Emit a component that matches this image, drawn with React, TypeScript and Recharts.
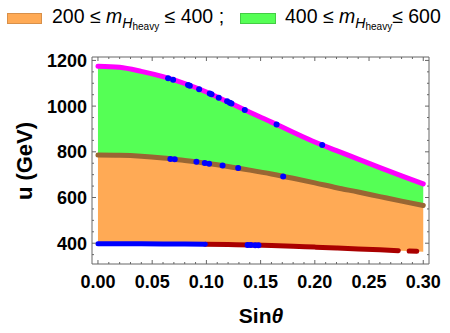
import { ComposedChart, Area, Line, Scatter, XAxis, YAxis } from "recharts";

// main grid: sin(theta) and the three boundary curves of the allowed band (u in GeV)
const sinTheta = [0, 0.02, 0.04, 0.06, 0.08, 0.1, 0.12, 0.14, 0.16, 0.18, 0.2, 0.22, 0.24, 0.26, 0.28, 0.3];
const uHeavy600 = [1175, 1170, 1152, 1129, 1099, 1062, 1018, 973, 930, 886, 843, 805, 768, 731, 695, 660];
const uHeavy400 = [786, 785, 781, 773, 762, 750, 736, 720, 703, 684, 664, 643, 624, 604, 584, 565];
const uHeavy200 = [398, 398, 397.5, 397, 396.5, 395.5, 394, 392, 390, 387, 383, 379, 375, 371, 367, 363];

// lower edge, drawn in pieces (blue part, then dark red with a small gap)
const lowBlueS = [0, 0.02, 0.04, 0.06, 0.08, 0.099];
const lowBlueU = [398, 398, 397.5, 397, 396.5, 395.5];
const lowRedS = [0.099, 0.12, 0.14, 0.16, 0.18, 0.2, 0.22, 0.24, 0.26, 0.277];
const lowRedU = [395.5, 394, 392, 390, 387, 383, 379, 375, 371, 367.5];
const lowRed2S = [0.287, 0.294];
const lowRed2U = [365.5, 364.5];

// blue sample points
const dotsTopS = [0.0647, 0.0693, 0.0831, 0.0847, 0.0933, 0.1031, 0.1047, 0.1114, 0.1191, 0.1216, 0.1231, 0.1354, 0.1647, 0.2068];
const dotsTopU = [1122, 1115, 1092, 1089, 1074, 1055, 1052, 1037, 1021, 1015, 1012, 983, 920, 830];
const dotsMidS = [0.0668, 0.0708, 0.0908, 0.0985, 0.1025, 0.1149, 0.1293, 0.1708];
const dotsMidU = [769, 768, 756, 751, 748, 740, 729, 692];
const dotsLowS = [0.138, 0.141, 0.145, 0.148];
const dotsLowU = [392, 391.8, 391.5, 391.2];

const xMajor = [0, 0.05, 0.1, 0.15, 0.2, 0.25, 0.3];
const xTicks = [0, 0.01, 0.02, 0.03, 0.04, 0.05, 0.06, 0.07, 0.08, 0.09, 0.1, 0.11, 0.12, 0.13, 0.14, 0.15, 0.16, 0.17, 0.18, 0.19, 0.2, 0.21, 0.22, 0.23, 0.24, 0.25, 0.26, 0.27, 0.28, 0.29, 0.3];
const yMajor = [400, 600, 800, 1000, 1200];
const yTicks = [350, 400, 450, 500, 550, 600, 650, 700, 750, 800, 850, 900, 950, 1000, 1050, 1100, 1150, 1200];

const xDomain: [number, number] = [-0.0055, 0.3053];
const yDomain: [number, number] = [309, 1215];

const font = "'Liberation Sans', Arial, sans-serif";
const frame = "#666";
const orange = "#FFAA55";
const green = "#55FF55";

const band = sinTheta.map((s, i) => ({ s, lo: uHeavy200[i], mid: uHeavy400[i], hi: uHeavy600[i] }));
const pts = (xs: number[], ys: number[]) => xs.map((s, i) => ({ s, u: ys[i] }));

const isMajor = (v: number, list: number[]) => list.some((m) => Math.abs(m - v) < 1e-6);
const tickText = { fill: "#000", fontSize: 18, fontWeight: "bold" as const, fontFamily: font };

// frame ticks point inward; majors longer and (bottom/left only) labelled
const makeTick = (side: "bottom" | "top" | "left" | "right") => (p: any) => {
  const v = p.payload.value;
  const horizontal = side === "bottom" || side === "top";
  const major = isMajor(v, horizontal ? xMajor : yMajor);
  const len = major ? 4 : 2;
  const { x, y } = p;
  let line;
  if (side === "bottom") line = <line x1={x} x2={x} y1={y} y2={y - len} stroke={frame} />;
  else if (side === "top") line = <line x1={x} x2={x} y1={y} y2={y + len} stroke={frame} />;
  else if (side === "left") line = <line x1={x} x2={x + len} y1={y} y2={y} stroke={frame} />;
  else line = <line x1={x} x2={x - len} y1={y} y2={y} stroke={frame} />;
  return (
    <g>
      {line}
      {major && side === "bottom" && (
        <text x={x} y={y + 11} dy="0.71em" textAnchor="middle" {...tickText}>{v.toFixed(2)}</text>
      )}
      {major && side === "left" && (
        <text x={x - 5} y={y} dy="0.355em" textAnchor="end" {...tickText}>{v}</text>
      )}
    </g>
  );
};

const Dot = (p: any) => <circle cx={p.cx} cy={p.cy} r={3} fill="#0000FF" />;

const Sub = () => (
  <>
    <span style={{ fontStyle: "italic" }}>m</span>
    <span style={{ fontStyle: "italic", fontSize: 14, position: "relative", top: 5 }}>H</span>
    <span style={{ fontSize: 10, position: "relative", top: 7 }}>heavy</span>
  </>
);

const common = { xAxisId: "b", yAxisId: "l", isAnimationActive: false } as const;

export default function App() {
  return (
    <div style={{ position: "fixed", left: 0, top: 0, width: 450, height: 333, background: "#fff", fontFamily: font }}>
      <ComposedChart width={450} height={333} margin={{ top: 56, right: 20, bottom: 68, left: 91 }}>
        <XAxis xAxisId="b" dataKey="s" type="number" domain={xDomain} allowDataOverflow ticks={xTicks} interval={0}
          height={1} tickSize={0} tickMargin={0} tickLine={false} tick={makeTick("bottom")} axisLine={{ stroke: frame }} />
        <XAxis xAxisId="t" orientation="top" dataKey="s" type="number" domain={xDomain} allowDataOverflow ticks={xTicks}
          interval={0} height={1} tickSize={0} tickMargin={0} tickLine={false} tick={makeTick("top")} axisLine={{ stroke: frame }} />
        <YAxis yAxisId="l" type="number" domain={yDomain} allowDataOverflow ticks={yTicks} interval={0} width={1}
          tickSize={0} tickMargin={0} tickLine={false} tick={makeTick("left")} axisLine={{ stroke: frame }} />
        <YAxis yAxisId="r" orientation="right" type="number" domain={yDomain} allowDataOverflow ticks={yTicks}
          interval={0} width={1} tickSize={0} tickMargin={0} tickLine={false} tick={makeTick("right")} axisLine={{ stroke: frame }} />

        <Area data={band} {...common} type="monotone" dataKey={(d: any) => [d.lo, d.mid]}
          fill={orange} fillOpacity={1} stroke="none" dot={false} activeDot={false} />
        <Area data={band} {...common} type="monotone" dataKey={(d: any) => [d.mid, d.hi]}
          fill={green} fillOpacity={1} stroke="none" dot={false} activeDot={false} />

        <Line data={band} {...common} type="monotone" dataKey="hi" stroke="#FF00FF" strokeWidth={5}
          strokeLinecap="round" dot={false} activeDot={false} />
        <Line data={band} {...common} type="monotone" dataKey="mid" stroke="#996633" strokeWidth={5}
          strokeLinecap="round" dot={false} activeDot={false} />
        <Line data={pts(lowRedS, lowRedU)} {...common} type="monotone" dataKey="u" stroke="#AA0000"
          strokeWidth={5} strokeLinecap="round" dot={false} activeDot={false} />
        <Line data={pts(lowRed2S, lowRed2U)} {...common} type="monotone" dataKey="u" stroke="#AA0000"
          strokeWidth={5} strokeLinecap="round" dot={false} activeDot={false} />
        <Line data={pts(lowBlueS, lowBlueU)} {...common} type="monotone" dataKey="u" stroke="#0000FF"
          strokeWidth={5} strokeLinecap="round" dot={false} activeDot={false} />

        <Scatter data={pts(dotsTopS, dotsTopU)} {...common} dataKey="u" shape={Dot} />
        <Scatter data={pts(dotsMidS, dotsMidU)} {...common} dataKey="u" shape={Dot} />
        <Scatter data={pts(dotsLowS, dotsLowU)} {...common} dataKey="u" shape={Dot} />
      </ComposedChart>

      {/* legend */}
      <div style={{ position: "absolute", left: 7, top: 13, width: 35, height: 11, background: orange, border: "1px solid #D8904A", boxSizing: "border-box" }} />
      <div style={{ position: "absolute", left: 52, top: 6, fontSize: 19.5, lineHeight: "20px", whiteSpace: "nowrap" }}>
        200 ≤ <Sub /> ≤ 400 ;
      </div>
      <div style={{ position: "absolute", left: 240, top: 13, width: 36, height: 11, background: green, border: "1px solid #44CC44", boxSizing: "border-box" }} />
      <div style={{ position: "absolute", left: 285, top: 6, fontSize: 19.5, lineHeight: "20px", whiteSpace: "nowrap" }}>
        400 ≤ <Sub />≤ 600
      </div>

      {/* axis titles */}
      <div style={{ position: "absolute", left: 25, top: 161, transform: "translate(-50%, -50%) rotate(-90deg)", fontSize: 22, fontWeight: "bold", whiteSpace: "nowrap" }}>
        u (GeV)
      </div>
      <div style={{ position: "absolute", left: 261, top: 316, transform: "translate(-50%, -50%)", fontSize: 21, fontWeight: "bold", whiteSpace: "nowrap" }}>
        Sin<span style={{ fontStyle: "italic" }}>θ</span>
      </div>
    </div>
  );
}
